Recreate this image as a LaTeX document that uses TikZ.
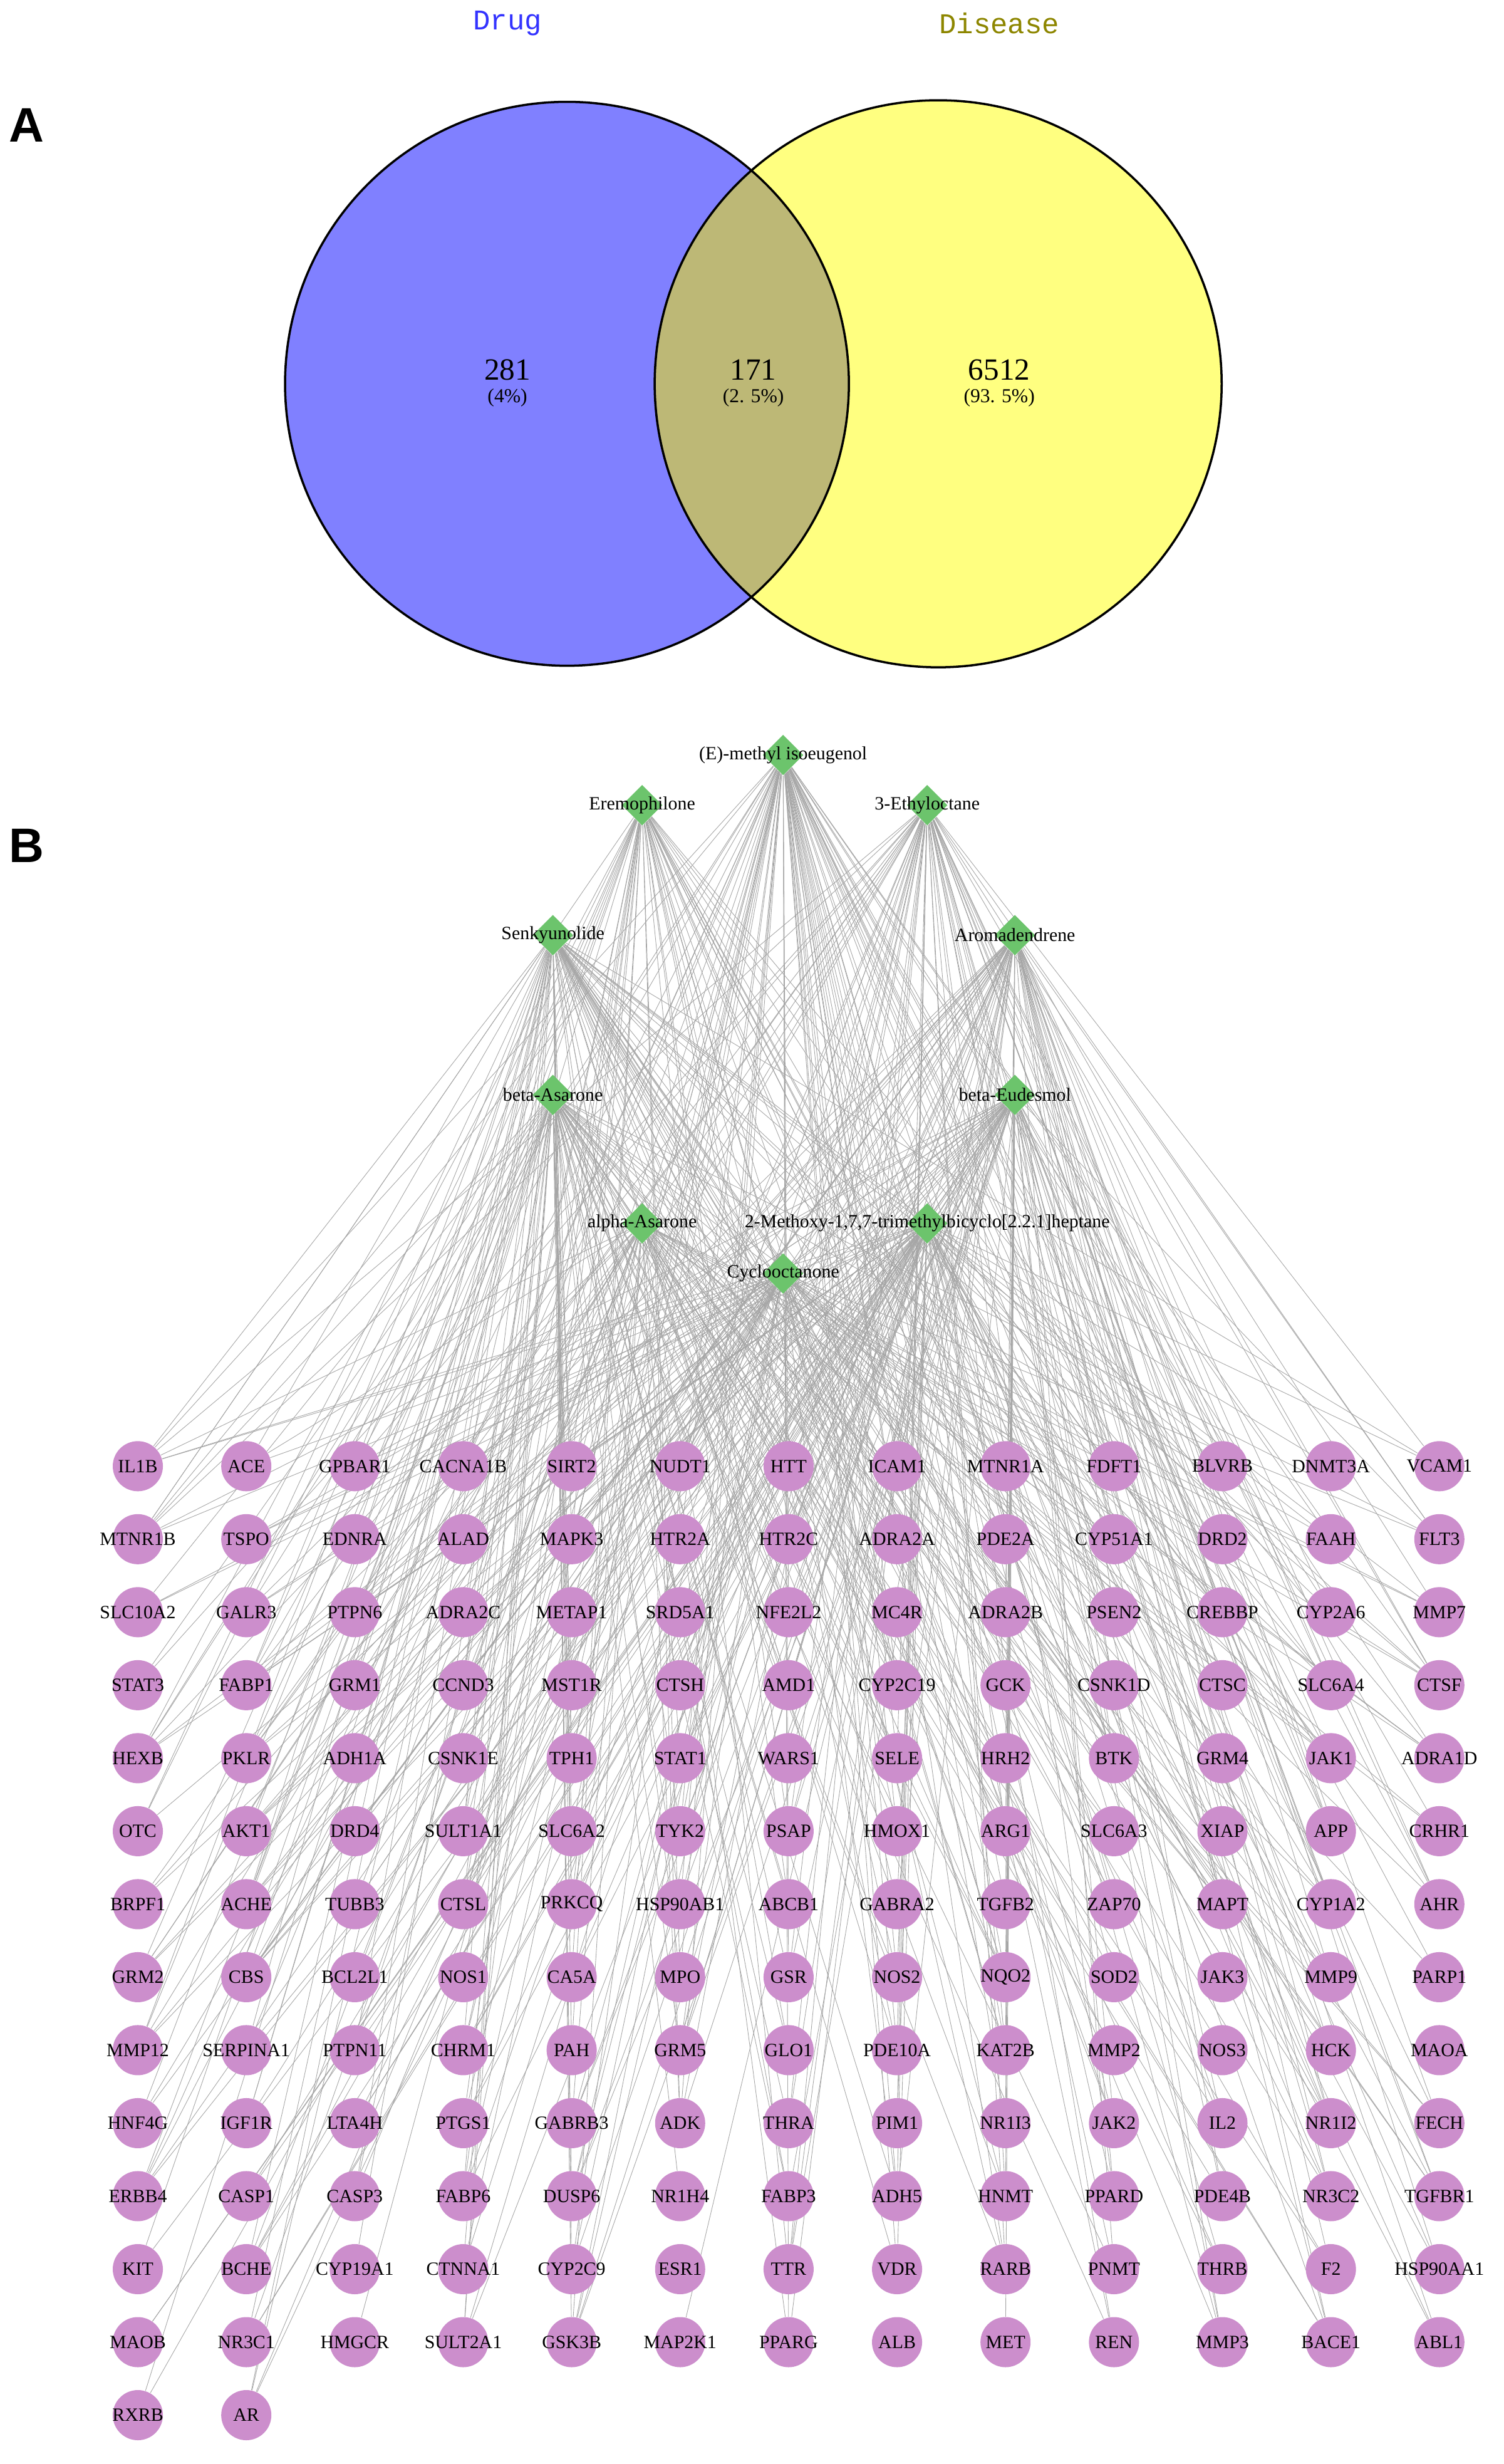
\documentclass[tikz,border=0pt]{standalone}
\usepackage{fontspec}
\setmainfont{Liberation Serif}
\newfontfamily\monof{Liberation Mono}
\newfontfamily\sansf{Liberation Sans}
\usetikzlibrary{shapes.geometric,backgrounds}
\definecolor{drugblue}{HTML}{8080FF}
\definecolor{disyel}{HTML}{FFFF80}
\definecolor{overl}{HTML}{BDB876}
\definecolor{dgreen}{HTML}{6CC46C}
\definecolor{tpink}{HTML}{CC8ECC}
\begin{document}
\begin{tikzpicture}[x=0.025cm,y=-0.025cm,
  drug/.style={diamond,fill=dgreen,minimum size=0.65cm,inner sep=0},
  targ/.style={circle,fill=tpink,minimum size=0.8cm,inner sep=0},
  lab/.style={font=\fontsize{8.5}{9}\selectfont},
  edge/.style={gray!70,line width=0.25pt}]
\useasboundingbox (0,0) rectangle (960,1573);
% Venn
\fill[drugblue] (362,245) circle (180);
\fill[disyel] (599,245) circle (181);
\begin{scope}\clip (362,245) circle (180); \fill[overl] (599,245) circle (181);\end{scope}
\draw[line width=1pt] (362,245) circle (180);
\draw[line width=1pt] (599,245) circle (181);
\node[font=\monof\fontsize{13}{14}\selectfont,text=blue!80] (dl) at (324,15) {Drug};
\node[font=\monof\fontsize{13}{14}\selectfont,text=olive] (sl) at (638,15) {Disease};
\node[font=\fontsize{14}{15}\selectfont] (n1) at (324,236) {281};
\node[font=\fontsize{9}{10}\selectfont] (p1) at (324,254) {(4\%)};
\node[font=\fontsize{14}{15}\selectfont] (n2) at (481,236) {171};
\node[font=\fontsize{9}{10}\selectfont] (p2) at (481,254) {(2. 5\%)};
\node[font=\fontsize{14}{15}\selectfont] (n3) at (638,236) {6512};
\node[font=\fontsize{9}{10}\selectfont] (p3) at (638,254) {(93. 5\%)};
\node[font=\sansf\bfseries\fontsize{22}{24}\selectfont] (A) at (17,80) {A};
\node[font=\sansf\bfseries\fontsize{22}{24}\selectfont] (B) at (17,540) {B};
% drugs
\foreach \x/\y/\t [count=\k] in {500/482/(E)-methyl isoeugenol, 410/514/Eremophilone, 592/514/3-Ethyloctane, 353/597/Senkyunolide, 648/597/Aromadendrene, 353/699/beta-Asarone, 648/699/beta-Eudesmol, 410/781/alpha-Asarone, 592/781/{2-Methoxy-1,7,7-trimethylbicyclo[2.2.1]heptane}, 500/813/Cyclooctanone}
  \node[drug,label={[lab]center:\t}] (d\k) at (\x,\y) {};
% targets
\foreach \t [count=\i] in {IL1B,ACE,GPBAR1,CACNA1B,SIRT2,NUDT1,HTT,ICAM1,MTNR1A,FDFT1,BLVRB,DNMT3A,VCAM1,
MTNR1B,TSPO,EDNRA,ALAD,MAPK3,HTR2A,HTR2C,ADRA2A,PDE2A,CYP51A1,DRD2,FAAH,FLT3,
SLC10A2,GALR3,PTPN6,ADRA2C,METAP1,SRD5A1,NFE2L2,MC4R,ADRA2B,PSEN2,CREBBP,CYP2A6,MMP7,
STAT3,FABP1,GRM1,CCND3,MST1R,CTSH,AMD1,CYP2C19,GCK,CSNK1D,CTSC,SLC6A4,CTSF,
HEXB,PKLR,ADH1A,CSNK1E,TPH1,STAT1,WARS1,SELE,HRH2,BTK,GRM4,JAK1,ADRA1D,
OTC,AKT1,DRD4,SULT1A1,SLC6A2,TYK2,PSAP,HMOX1,ARG1,SLC6A3,XIAP,APP,CRHR1,
BRPF1,ACHE,TUBB3,CTSL,PRKCQ,HSP90AB1,ABCB1,GABRA2,TGFB2,ZAP70,MAPT,CYP1A2,AHR,
GRM2,CBS,BCL2L1,NOS1,CA5A,MPO,GSR,NOS2,NQO2,SOD2,JAK3,MMP9,PARP1,
MMP12,SERPINA1,PTPN11,CHRM1,PAH,GRM5,GLO1,PDE10A,KAT2B,MMP2,NOS3,HCK,MAOA,
HNF4G,IGF1R,LTA4H,PTGS1,GABRB3,ADK,THRA,PIM1,NR1I3,JAK2,IL2,NR1I2,FECH,
ERBB4,CASP1,CASP3,FABP6,DUSP6,NR1H4,FABP3,ADH5,HNMT,PPARD,PDE4B,NR3C2,TGFBR1,
KIT,BCHE,CYP19A1,CTNNA1,CYP2C9,ESR1,TTR,VDR,RARB,PNMT,THRB,F2,HSP90AA1,
MAOB,NR3C1,HMGCR,SULT2A1,GSK3B,MAP2K1,PPARG,ALB,MET,REN,MMP3,BACE1,ABL1,
RXRB,AR}{
  \pgfmathtruncatemacro{\c}{mod(\i-1,13)}
  \pgfmathtruncatemacro{\r}{(\i-1)/13}
  \node[targ,label={[lab]center:\t}] (t\i) at ({88+69.25*\c},{936+46.6*\r}) {};
}
\begin{scope}[on background layer]
\pgfmathsetseed{4242}
\foreach \i in {1,...,171}{
  \foreach \j in {1,...,10}{
    \pgfmathtruncatemacro{\e}{rnd<0.33 ? 1 : 0}
    \ifnum\e=1 \draw[edge] (d\j) -- (t\i); \fi
  }
}
\end{scope}
\end{tikzpicture}
\end{document}
